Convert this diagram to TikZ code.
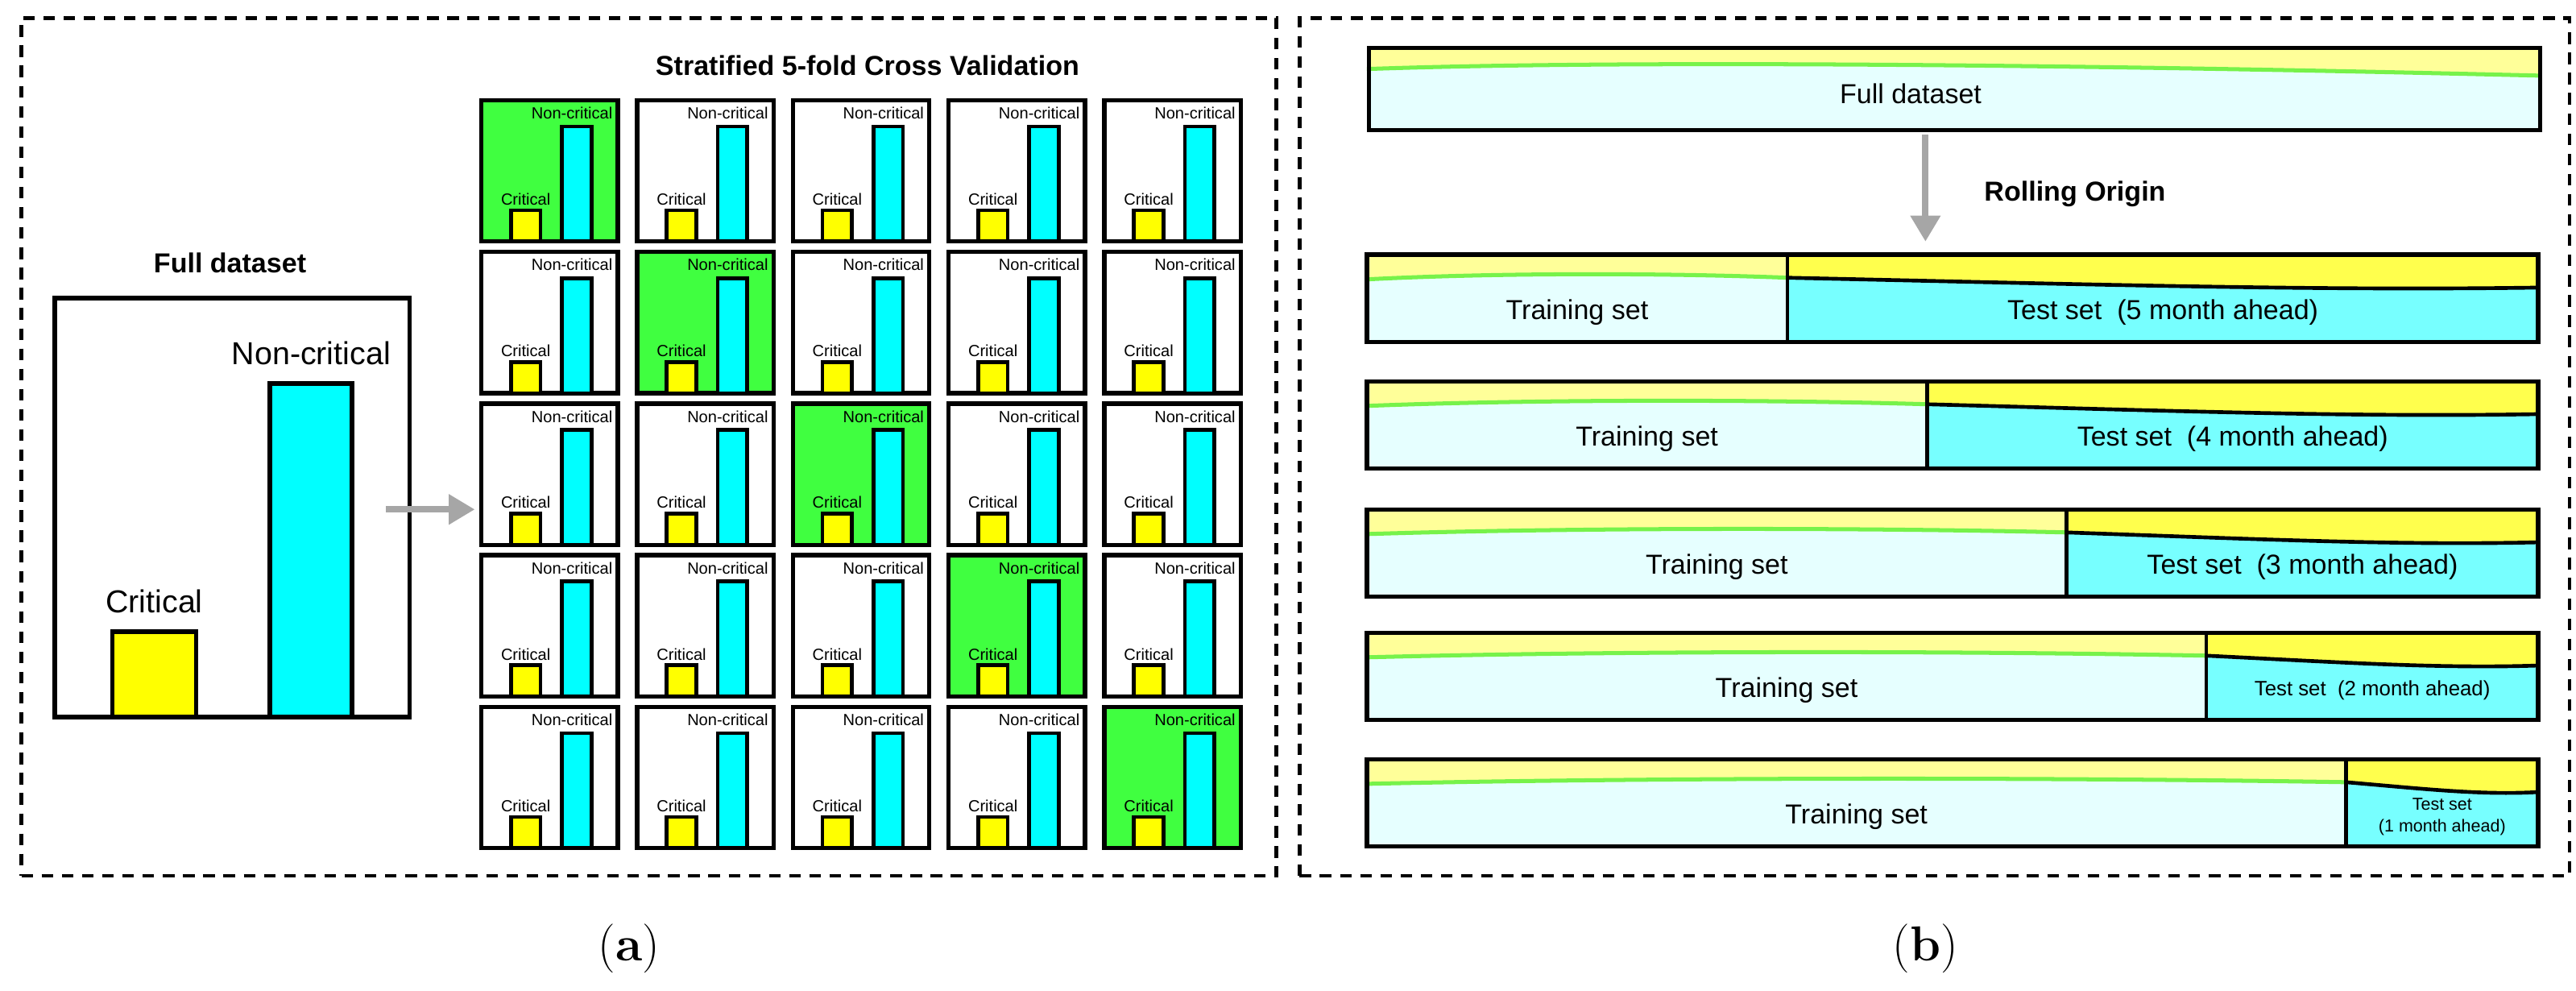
\documentclass[tikz,border=0pt]{standalone}
\usepackage{fontspec}
\setmainfont{Liberation Sans}
\newfontfamily\serifcap{Latin Modern Roman}
\usetikzlibrary{arrows.meta,calc}
\definecolor{gr}{HTML}{40FF40}
\definecolor{cy}{HTML}{00FFFF}
\definecolor{ye}{HTML}{FFFF00}
\definecolor{paleY}{HTML}{FFFF99}
\definecolor{paleC}{HTML}{E6FFFF}
\definecolor{tY}{HTML}{FFFF4D}
\definecolor{tC}{HTML}{77FFFF}
\definecolor{lgr}{HTML}{77F24A}
\tikzset{
  dbox/.style={draw,dashed,line width=1.2pt,dash pattern=on 4pt off 3pt},
  cell/.style={draw,line width=1.5pt,minimum width=1.66cm,minimum height=1.72cm,anchor=north west,inner sep=0pt,outer sep=0pt},
  bar/.style={draw,line width=1.5pt},
  tiny/.style={font=\fontsize{5.6}{6}\selectfont,inner sep=0.5pt},
  garrow/.style={draw=gray!70,line width=2.2pt,-{Triangle[length=9pt,width=10pt,fill=gray!70]}},
  lab/.style={font=\serifcap\fontsize{17}{20}\selectfont},
  ttl/.style={font=\bfseries\fontsize{9.5}{11}\selectfont},
  bt/.style={font=\fontsize{9.5}{11}\selectfont,inner sep=0pt}
}
\begin{document}
\begin{tikzpicture}[x=0.02cm,y=-0.02cm]
\useasboundingbox (0,0) rectangle (1568,603);
% dashed panels
\node[dbox,anchor=north west,minimum width=15.28cm,minimum height=10.44cm] (pa) at (12,10) {};
\node[dbox,anchor=north west,minimum width=15.46cm,minimum height=10.44cm] (pb) at (790,10) {};
\node[lab] (la) at (383,577) {(\textbf{a})};
\node[lab] (lb) at (1172,577) {(\textbf{b})};
% ---- left: full dataset
\node[ttl] (fdt) at (140,160) {Full dataset};
\node[draw,line width=1.6pt,anchor=north west,minimum width=4.32cm,minimum height=5.1cm,inner sep=0pt] (big) at (32,180) {};
\node[draw,line width=1.6pt,fill=ye,anchor=north west,minimum width=1.02cm,minimum height=1.04cm,inner sep=0pt] (byel) at (67,383) {};
\node[draw,line width=1.6pt,fill=cy,anchor=north west,minimum width=1.0cm,minimum height=4.06cm,inner sep=0pt] (bcy) at (163,232) {};
\node[font=\fontsize{11}{13}\selectfont,above=2pt] (bcl) at (byel.north) {Critical};
\node[font=\fontsize{11}{13}\selectfont,above=2pt] (bncl) at (bcy.north) {Non-critical};
\coordinate (ga1) at (235,310);
\coordinate (ga2) at (289,310);
\draw[garrow] (ga1) -- (ga2);
\node[ttl] (cvt) at (528,40) {Stratified 5-fold Cross Validation};
% ---- grid
\foreach \c in {0,...,4}{
 \foreach \r in {0,...,4}{
  \ifnum\c=\r\def\fc{gr}\else\def\fc{white}\fi
  \node[cell,fill=\fc] (c\c\r) at ({293+94.8*\c},{61+92.3*\r}) {};
  \draw[line width=1.3pt,fill=ye] ($(c\c\r.south west)+(18,0)$) rectangle ($(c\c\r.south west)+(36,-19)$);
  \draw[line width=1.3pt,fill=cy] ($(c\c\r.south west)+(49,0)$) rectangle ($(c\c\r.south west)+(67,-70)$);
  \node[tiny,anchor=south] (cl\c\r) at ($(c\c\r.south west)+(27,-21)$) {Critical};
  \node[tiny,anchor=north east] (ncl\c\r) at ($(c\c\r.north east)+(-2,3)$) {Non-critical};
 }
}
% ---- right panel
\def\L{832}\def\R{1545}
\fill[paleY] (\L,28) rectangle (\R,78);
\fill[paleC] (\L,42) .. controls (1000,36) and (1300,40) .. (\R,46) -- (\R,78) -- (\L,78) -- cycle;
\draw[lgr,line width=1.4pt] (\L,42) .. controls (1000,36) and (1300,40) .. (\R,46);
\node[bar,anchor=north west,minimum width=14.26cm,minimum height=1.0cm,inner sep=0pt] (fd) at (\L,28) {};
\node[bt] (fdl) at (1163,57) {Full dataset};
\coordinate (ra1) at (1172,82);
\coordinate (ra2) at (1172,147);
\draw[garrow] (ra1) -- (ra2);
\node[ttl] (rot) at (1263,118) {Rolling Origin};
\foreach \T/\S/\txt/\fs [count=\i] in {155/1088/{Test set\ \ (5 month ahead)}/9.5,232/1173/{Test set\ \ (4 month ahead)}/9.5,310/1258/{Test set\ \ (3 month ahead)}/9.5,385/1343/{Test set\ \ (2 month ahead)}/7.2,462/1428/{\shortstack{Test set\\(1 month ahead)}}/6}{
  \pgfmathsetmacro\B{\T+53}
  \fill[paleY] (\L,\T) rectangle (\S,\B);
  \fill[paleC] (\L,\T+15) .. controls ({\L+0.3*(\S-\L)},\T+11) and ({\S-0.3*(\S-\L)},\T+11) .. (\S,\T+14) -- (\S,\B) -- (\L,\B) -- cycle;
  \draw[lgr,line width=1.4pt] (\L,\T+15) .. controls ({\L+0.3*(\S-\L)},\T+11) and ({\S-0.3*(\S-\L)},\T+11) .. (\S,\T+14);
  \fill[tY] (\S,\T) rectangle (\R,\B);
  \fill[tC] (\S,\T+14) .. controls ({\S+0.4*(\R-\S)},\T+18) and ({\R-0.3*(\R-\S)},\T+22) .. (\R,\T+20) -- (\R,\B) -- (\S,\B) -- cycle;
  \draw[line width=1.3pt] (\S,\T+14) .. controls ({\S+0.4*(\R-\S)},\T+18) and ({\R-0.3*(\R-\S)},\T+22) .. (\R,\T+20);
  \draw[bar] (\L,\T) rectangle (\R,\B);
  \draw[line width=1.3pt] (\S,\T) -- (\S,\B);
  \node[bt] (tr\i) at ({(\L+\S)/2},\T+35) {Training set};
  \node[bt,font=\fontsize{\fs}{\fs}\selectfont,align=center] (ts\i) at ({(\S+\R)/2},\T+35) {\txt};
}
\end{tikzpicture}
\end{document}
